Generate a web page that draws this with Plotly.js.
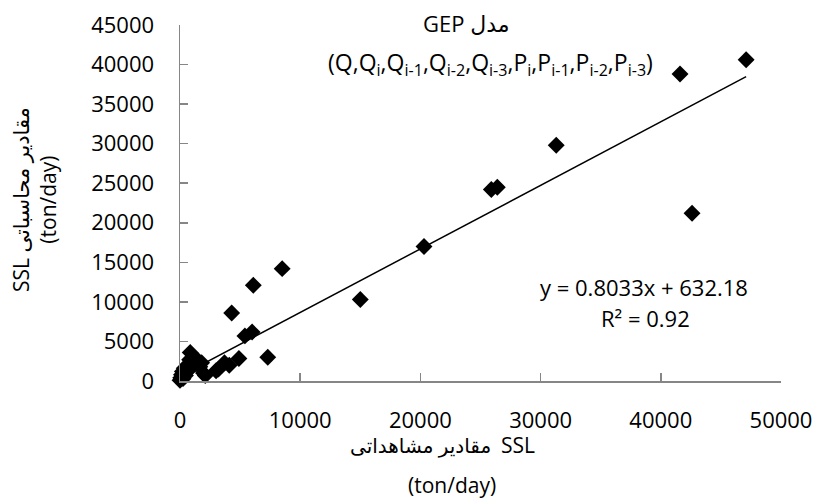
<!DOCTYPE html>
<html>
<head>
<meta charset="utf-8">
<script src="https://cdn.plot.ly/plotly-3.0.1.min.js"></script>
<style>html,body{margin:0;padding:0;background:#fff;}#chart{width:815px;height:499px;}</style>
</head>
<body>
<div id="chart"></div>
<script>
// Observed SSL (ton/day) and GEP-computed SSL (ton/day)
const observedSSL = [0, 60, 120, 200, 250, 350, 450, 500, 600, 700, 800, 850, 1000, 1150, 1300, 1500, 1650, 1800, 1950, 2100, 3000, 3200, 3700, 4100, 4900, 5400, 6000, 4300, 6100, 8500, 7300, 15000, 20300, 25900, 26400, 31300, 41600, 47100, 42600];
const computedSSL = [100, 400, 800, 1200, 300, 1600, 700, 1100, 2000, 1400, 2700, 3600, 1800, 3000, 2200, 2600, 1800, 2300, 1000, 700, 1300, 1500, 2300, 2000, 2850, 5700, 6200, 8600, 12100, 14200, 3000, 10300, 17000, 24200, 24500, 29800, 38800, 40600, 21200];
const trendSlope = 0.8033;
const trendIntercept = 632.18;
const rSquared = 0.92;
const xTickVals = [0, 10000, 20000, 30000, 40000, 50000];
const xTickText = ['0', '10000', '20000', '30000', '40000', '50000'];
const yTickVals = [0, 5000, 10000, 15000, 20000, 25000, 30000, 35000, 40000, 45000];
const yTickText = ['0', '5000', '10000', '15000', '20000', '25000', '30000', '35000', '40000', '45000'];

const xMin = Math.min(...observedSSL), xMax = Math.max(...observedSSL);
const trendX = [xMin, xMax];
const trendY = trendX.map(v => trendSlope * v + trendIntercept);

const FONT = "'Open Sans', 'DejaVu Sans', sans-serif";
const W = 815, H = 499, L = 180, R = 34, T = 25, B = 118;
const pw = W - L - R, ph = H - T - B;
const px = v => (v - L) / pw;
const py = v => (H - B - v) / ph;

const traces = [
  {x: observedSSL, y: computedSSL, type: 'scatter', mode: 'markers', cliponaxis: false,
   marker: {symbol: 'diamond', size: 13, color: '#000000', line: {width: 0}}, showlegend: false},
  {x: trendX, y: trendY, type: 'scatter', mode: 'lines', cliponaxis: false,
   line: {color: '#000000', width: 1.5}, showlegend: false}
];

const ann = (x, y, text, extra) => Object.assign({xref: 'paper', yref: 'paper', x: px(x), y: py(y),
  xanchor: 'center', yanchor: 'middle', showarrow: false, text: text, font: {family: FONT, size: 21, color: '#000'}}, extra || {});

const layout = {
  width: W, height: H,
  margin: {l: L, r: R, t: T, b: B, pad: 0},
  paper_bgcolor: '#ffffff', plot_bgcolor: '#ffffff',
  font: {family: FONT, size: 21, color: '#000'},
  xaxis: {range: [0, 50000], tickvals: xTickVals, ticktext: xTickText, ticks: 'inside', ticklen: 8, tickwidth: 1.5, tickcolor: '#868686',
    showline: true, linecolor: '#868686', linewidth: 1.5, showgrid: false, zeroline: false,
    tickfont: {family: FONT, size: 22, color: '#000'}, ticklabelstandoff: 19},
  yaxis: {range: [0, 45000], tickvals: yTickVals, ticktext: yTickText, ticks: 'inside', ticklen: 8, tickwidth: 1.5, tickcolor: '#868686',
    showline: true, linecolor: '#868686', linewidth: 1.5, showgrid: false, zeroline: false,
    tickfont: {family: FONT, size: 22, color: '#000'}, ticklabelstandoff: 20},
  annotations: [
    ann(466, 23, 'GEP مدل', {font: {family: FONT, size: 22, color: '#000'}}),
    ann(490, 63, '(Q,Q<sub>i</sub>,Q<sub>i-1</sub>,Q<sub>i-2</sub>,Q<sub>i-3</sub>,P<sub>i</sub>,P<sub>i-1</sub>,P<sub>i-2</sub>,P<sub>i-3</sub>)', {font: {family: FONT, size: 23, color: '#000'}}),
    ann(644, 287, 'y = ' + trendSlope + 'x + ' + trendIntercept, {font: {family: FONT, size: 22, color: '#000'}}),
    ann(645, 318, 'R² = ' + rSquared, {font: {family: FONT, size: 22, color: '#000'}}),
    ann(493, 445, 'مقادیر مشاهداتی', {xanchor: 'right', font: {family: FONT, size: 20, color: '#000'}}),
    ann(499, 445, 'SSL', {xanchor: 'left'}),
    ann(452, 485, '(ton/day)'),
    ann(34, 200, 'SSL مقادیر محاسباتی<br>(ton/day)', {textangle: -90})
  ]
};

Plotly.newPlot('chart', traces, layout, {displayModeBar: false, staticPlot: true});
</script>
</body>
</html>
